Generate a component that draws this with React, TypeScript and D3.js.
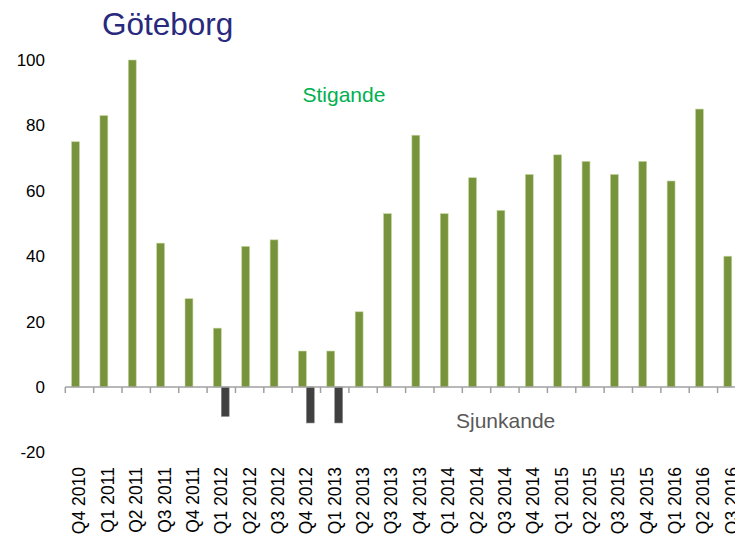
import React from "react";
import * as d3 from "d3";

const categories = [
  "Q4 2010", "Q1 2011", "Q2 2011", "Q3 2011", "Q4 2011", "Q1 2012",
  "Q2 2012", "Q3 2012", "Q4 2012", "Q1 2013", "Q2 2013", "Q3 2013",
  "Q4 2013", "Q1 2014", "Q2 2014", "Q3 2014", "Q4 2014", "Q1 2015",
  "Q2 2015", "Q3 2015", "Q4 2015", "Q1 2016", "Q2 2016", "Q3 2016",
];
const stigande = [75, 83, 100, 44, 27, 18, 43, 45, 11, 11, 23, 53, 77, 53, 64, 54, 65, 71, 69, 65, 69, 63, 85, 40];
const sjunkande = [0, 0, 0, 0, 0, -9, 0, 0, -11, -11, 0, 0, 0, 0, 0, 0, 0, 0, 0, 0, 0, 0, 0, 0];
const yTicks = [-20, 0, 20, 40, 60, 80, 100];

const W = 735;
const H = 540;
const FONT = "'Liberation Sans', Arial, sans-serif";

export default function App() {
  const x = d3.scaleBand<string>().domain(categories).range([65.3, 65.3 + 28.36 * categories.length]).paddingInner(0).paddingOuter(0);
  const y = d3.scaleLinear().domain([-20, 100]).range([452.4, 60]);
  const barW = 7.9;
  const y0 = y(0);

  return (
    <svg width={W} height={H} style={{ position: "absolute", left: 0, top: 0, background: "#fff" }}>
      <text x={102} y={35} fontFamily={FONT} fontSize={31.5} fill="#29297d">Göteborg</text>

      {yTicks.map((t) => (
        <text key={t} x={45} y={y(t)} dy="0.35em" textAnchor="end" fontFamily={FONT} fontSize={17} fill="#000">{t}</text>
      ))}

      {categories.map((c, i) => {
        const bx = x(c)! + x.bandwidth() / 2 - barW;
        const v = stigande[i];
        return (
          <rect key={"g" + c} x={bx} y={y(v)} width={barW} height={y0 - y(v)} fill="#77933c" stroke="#c5d6a0" strokeWidth={0.6} />
        );
      })}
      {categories.map((c, i) => {
        const v = sjunkande[i];
        if (v === 0) return null;
        const bx = x(c)! + x.bandwidth() / 2;
        return (
          <rect key={"d" + c} x={bx} y={y0} width={barW} height={y(v) - y0} fill="#404040" stroke="#8a8a8a" strokeWidth={0.6} />
        );
      })}

      <line x1={65.3} x2={W} y1={y0} y2={y0} stroke="#a0a0a0" strokeWidth={1.5} />
      {categories.map((c) => (
        <line key={"t" + c} x1={x(c)!} x2={x(c)!} y1={y0} y2={y0 + 6} stroke="#a0a0a0" strokeWidth={1.5} />
      ))}
      <line x1={x(categories[categories.length - 1])! + x.bandwidth()} x2={x(categories[categories.length - 1])! + x.bandwidth()} y1={y0} y2={y0 + 6} stroke="#a0a0a0" strokeWidth={1.5} />

      {categories.map((c) => {
        const cx = x(c)! + x.bandwidth() / 2;
        return (
          <text key={"l" + c} transform={`translate(${cx + 6},467) rotate(-90)`} textAnchor="end" fontFamily={FONT} fontSize={17.5} fill="#000">{c}</text>
        );
      })}

      <text x={302.5} y={101.5} fontFamily={FONT} fontSize={21} fill="#00b050">Stigande</text>
      <text x={456} y={427.5} fontFamily={FONT} fontSize={21} fill="#595959">Sjunkande</text>
    </svg>
  );
}
